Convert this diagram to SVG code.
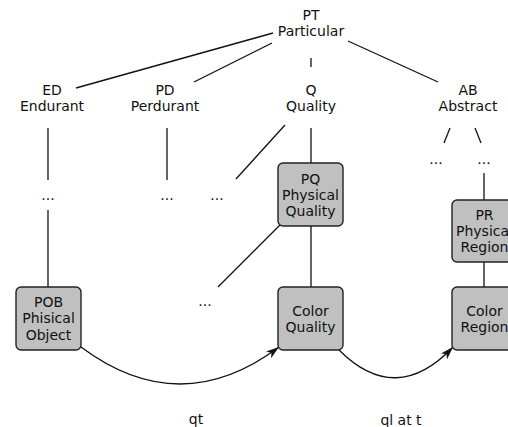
<svg xmlns="http://www.w3.org/2000/svg" width="508" height="427" viewBox="0 0 508 427">
<style>
text{font-family:"DejaVu Sans","Liberation Sans",sans-serif;font-size:14px;fill:#111;text-anchor:middle}
.ln{stroke:#111;stroke-width:1.3;fill:none}
.box{fill:#c0c0c0;stroke:#222;stroke-width:1.4}
</style>
<defs>
<marker id="ah" markerUnits="userSpaceOnUse" markerWidth="14" markerHeight="10" refX="13" refY="5" orient="auto">
<path d="M0,0.8 L13,5 L0,9.2 L3.5,5 z" fill="#111"/>
</marker>
</defs>
<g id="connectors">
<line class="ln" x1="273" y1="33" x2="76" y2="88"/>
<line class="ln" x1="272" y1="43" x2="194" y2="82"/>
<line class="ln" x1="311" y1="58" x2="311" y2="67"/>
<line class="ln" x1="348" y1="41" x2="438" y2="82"/>
<line class="ln" x1="48" y1="128" x2="48" y2="180"/>
<line class="ln" x1="48" y1="210" x2="48" y2="287"/>
<line class="ln" x1="167" y1="128" x2="167" y2="180"/>
<line class="ln" x1="285" y1="125" x2="236" y2="179"/>
<line class="ln" x1="311" y1="128" x2="311" y2="163"/>
<line class="ln" x1="280" y1="225" x2="218" y2="287"/>
<line class="ln" x1="311" y1="226" x2="311" y2="287"/>
<line class="ln" x1="450" y1="128" x2="444" y2="143"/>
<line class="ln" x1="475" y1="128" x2="481" y2="143"/>
<line class="ln" x1="484" y1="173" x2="484" y2="200"/>
<line class="ln" x1="484" y1="262" x2="484" y2="287"/>
<path class="ln" d="M81,347 Q180,421 279,347" marker-end="url(#ah)"/>
<path class="ln" d="M339,350 Q396,407 453,347" marker-end="url(#ah)"/>
<text x="196" y="424">qt</text>
<text x="401" y="425">ql at t</text>
</g>
<g id="PT"><text x="311" y="20">PT</text><text x="311" y="36">Particular</text></g>
<g id="ED"><text x="52" y="95">ED</text><text x="52" y="111">Endurant</text></g>
<g id="PD"><text x="165" y="95">PD</text><text x="165" y="111">Perdurant</text></g>
<g id="Q"><text x="311" y="95">Q</text><text x="311" y="111">Quality</text></g>
<g id="AB"><text x="468" y="95">AB</text><text x="468" y="111">Abstract</text></g>
<g id="ED-more"><text x="48" y="200">...</text></g>
<g id="PD-more"><text x="167" y="200">...</text></g>
<g id="Q-more1"><text x="217" y="200">...</text></g>
<g id="Q-more2"><text x="205" y="306">...</text></g>
<g id="AB-more1"><text x="436" y="164">...</text></g>
<g id="AB-more2"><text x="484" y="164">...</text></g>
<g id="PQ"><rect class="box" x="278" y="163" width="65" height="63" rx="5"/><text x="310.5" y="184">PQ</text><text x="310.5" y="200">Physical</text><text x="310.5" y="216">Quality</text></g>
<g id="PR"><rect class="box" x="452" y="200" width="65" height="62" rx="5"/><text x="484.5" y="220">PR</text><text x="484.5" y="236">Physical</text><text x="484.5" y="252">Region</text></g>
<g id="POB"><rect class="box" x="16" y="287" width="65" height="63" rx="5"/><text x="48.5" y="307">POB</text><text x="48.5" y="323">Phisical</text><text x="48.5" y="340">Object</text></g>
<g id="CQ"><rect class="box" x="278" y="287" width="65" height="63" rx="5"/><text x="310.5" y="316">Color</text><text x="310.5" y="332">Quality</text></g>
<g id="CR"><rect class="box" x="452" y="287" width="65" height="63" rx="5"/><text x="484.5" y="316">Color</text><text x="484.5" y="332">Region</text></g>
</svg>
